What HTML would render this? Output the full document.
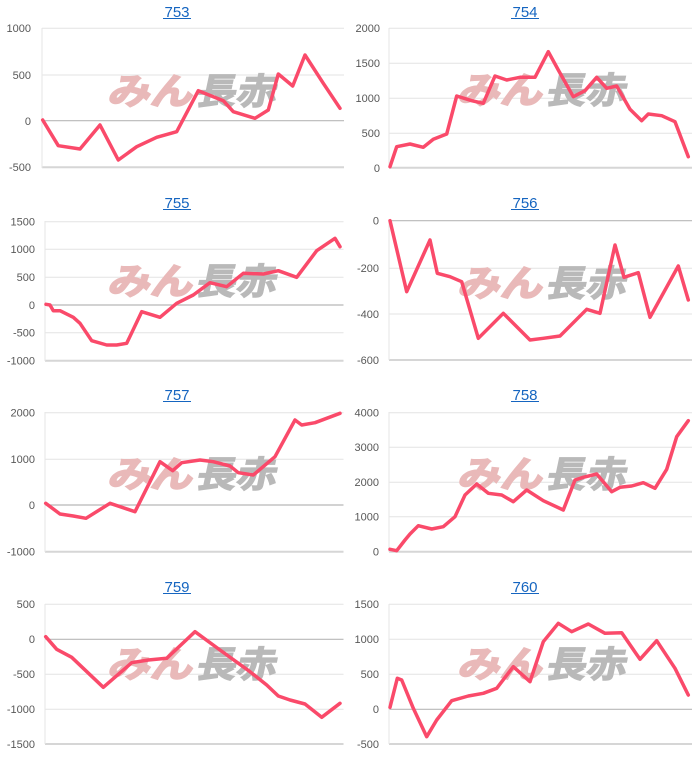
<!DOCTYPE html>
<html><head><meta charset="utf-8">
<style>
html,body{margin:0;padding:0;background:#fff;}
svg{display:block;}
.t{font-family:"Liberation Sans",Arial,sans-serif;font-size:15px;fill:#1565c0;text-anchor:middle;}
.l{font-family:"Liberation Sans",Arial,sans-serif;font-size:11px;fill:#585858;text-anchor:end;}
.g{stroke:#e3e3e3;stroke-width:1;}
.b{stroke:#b8b8b8;stroke-width:1.2;}
.bt{stroke:#d6d6d6;stroke-width:2;}
.ax{stroke:#e6e6e6;stroke-width:1;}
.ln{fill:none;stroke:#fa4a6a;stroke-width:3.5;stroke-linejoin:round;stroke-linecap:round;}
.wp{font-family:"Liberation Sans","Noto Sans CJK JP",sans-serif;font-weight:bold;font-size:36px;fill:#e9b9b9;stroke:#e9b9b9;stroke-width:1.8;}
.wg{font-family:"Liberation Sans","Noto Sans CJK JP",sans-serif;font-weight:bold;font-size:36px;fill:#b9b9b9;stroke:#b9b9b9;stroke-width:1.2;}
</style></head>
<body>
<svg width="700" height="768" viewBox="0 0 700 768" xmlns="http://www.w3.org/2000/svg">

<!-- ========== Chart 753 ========== -->
<text class="t" x="177" y="17">753</text><line x1="163" y1="18.5" x2="191" y2="18.5" stroke="#1565c0" stroke-width="1"/>
<line class="g" x1="42" y1="28.3" x2="344" y2="28.3"/>
<line class="g" x1="42" y1="75" x2="344" y2="75"/>
<line class="b" x1="42" y1="120.7" x2="344" y2="120.7"/>
<line class="bt" x1="42" y1="167.3" x2="344" y2="167.3"/>
<line class="ax" x1="42" y1="28" x2="42" y2="168"/>
<text class="l" x="31" y="32">1000</text>
<text class="l" x="31" y="79">500</text>
<text class="l" x="31" y="125">0</text>
<text class="l" x="31" y="171">-500</text>
<g transform="translate(194,90)">
<text class="wp" x="-84" y="14" textLength="85" lengthAdjust="spacingAndGlyphs" transform="skewX(-12)">みん</text>
<text class="wg" x="4" y="14" textLength="80" lengthAdjust="spacingAndGlyphs" transform="skewX(-12)">長赤</text>
</g>
<polyline class="ln" points="42.7,120 58.3,145.7 80,149 100,125 118.3,160 136.7,146.7 156.7,137.3 176.7,131.7 198.3,90.7 223.3,100.7 233.3,111.7 255,118.3 268.3,110 278.3,74 292.7,86 305,55 323.3,83.3 340,108.3"/>

<!-- ========== Chart 754 ========== -->
<text class="t" x="525" y="17">754</text><line x1="511" y1="18.5" x2="539" y2="18.5" stroke="#1565c0" stroke-width="1"/>
<line class="g" x1="389" y1="28.3" x2="692" y2="28.3"/>
<line class="g" x1="389" y1="63.3" x2="692" y2="63.3"/>
<line class="g" x1="389" y1="98.3" x2="692" y2="98.3"/>
<line class="g" x1="389" y1="133.3" x2="692" y2="133.3"/>
<line class="bt" x1="389" y1="167.7" x2="692" y2="167.7"/>
<line class="ax" x1="389" y1="28" x2="389" y2="168"/>
<text class="l" x="380" y="32">2000</text>
<text class="l" x="380" y="67">1500</text>
<text class="l" x="380" y="102">1000</text>
<text class="l" x="380" y="137">500</text>
<text class="l" x="380" y="172">0</text>
<g transform="translate(544,89)">
<text class="wp" x="-84" y="14" textLength="85" lengthAdjust="spacingAndGlyphs" transform="skewX(-12)">みん</text>
<text class="wg" x="4" y="14" textLength="80" lengthAdjust="spacingAndGlyphs" transform="skewX(-12)">長赤</text>
</g>
<polyline class="ln" points="390,166.7 396.7,146.7 410,144 423.3,147.3 433.3,139.3 446.7,134 456.7,96 471.7,100.7 483.3,103.3 495,76 506.7,80 520,77.3 535,77.3 548.3,51.7 558.3,70 573.3,96.7 585,90.7 596.7,77.3 606.7,88.3 616.7,86 630,109.3 641.7,120.7 648.3,114 661.7,115.7 675,121.7 688.3,156.7"/>

<!-- ========== Chart 755 ========== -->
<text class="t" x="177" y="208">755</text><line x1="163" y1="209.5" x2="191" y2="209.5" stroke="#1565c0" stroke-width="1"/>
<line class="g" x1="45" y1="221.7" x2="343.5" y2="221.7"/>
<line class="g" x1="45" y1="249.3" x2="343.5" y2="249.3"/>
<line class="g" x1="45" y1="277.3" x2="343.5" y2="277.3"/>
<line class="b" x1="45" y1="305" x2="343.5" y2="305"/>
<line class="g" x1="45" y1="332.7" x2="343.5" y2="332.7"/>
<line class="bt" x1="45" y1="360.7" x2="343.5" y2="360.7"/>
<line class="ax" x1="45" y1="221" x2="45" y2="361"/>
<text class="l" x="35" y="225.5">1500</text>
<text class="l" x="35" y="253">1000</text>
<text class="l" x="35" y="281">500</text>
<text class="l" x="35" y="309">0</text>
<text class="l" x="35" y="336.5">-500</text>
<text class="l" x="35" y="364.5">-1000</text>
<g transform="translate(194,280)">
<text class="wp" x="-84" y="14" textLength="85" lengthAdjust="spacingAndGlyphs" transform="skewX(-12)">みん</text>
<text class="wg" x="4" y="14" textLength="80" lengthAdjust="spacingAndGlyphs" transform="skewX(-12)">長赤</text>
</g>
<polyline class="ln" points="46,304.3 50,305 53.3,310.7 60,310.7 73.3,317.3 80,323.3 91.7,340.7 106.7,345 116.7,345 126.7,343.3 141.7,311.7 160,317.3 176.7,303.3 193.3,295 210,282.7 226.7,286.7 243.3,273.3 263.3,274 278.3,270.7 296.7,277.3 316.7,250.7 335,238.3 340,246.7"/>

<!-- ========== Chart 756 ========== -->
<text class="t" x="525" y="208">756</text><line x1="511" y1="209.5" x2="539" y2="209.5" stroke="#1565c0" stroke-width="1"/>
<line class="b" x1="389" y1="220.7" x2="692" y2="220.7"/>
<line class="g" x1="389" y1="268.3" x2="692" y2="268.3"/>
<line class="g" x1="389" y1="314" x2="692" y2="314"/>
<line class="bt" x1="389" y1="360" x2="692" y2="360"/>
<line class="ax" x1="389" y1="220" x2="389" y2="360"/>
<text class="l" x="379" y="224.5">0</text>
<text class="l" x="379" y="272">-200</text>
<text class="l" x="379" y="318">-400</text>
<text class="l" x="379" y="364">-600</text>
<g transform="translate(544,282)">
<text class="wp" x="-84" y="14" textLength="85" lengthAdjust="spacingAndGlyphs" transform="skewX(-12)">みん</text>
<text class="wg" x="4" y="14" textLength="80" lengthAdjust="spacingAndGlyphs" transform="skewX(-12)">長赤</text>
</g>
<polyline class="ln" points="390,220.7 406.7,291.7 430,240 437.3,273.3 450,276.7 461.7,281.7 478.3,338.3 503.3,313.3 530,340 543.3,338.3 560,336 586.7,309.3 600,313.3 615,245 624,277.3 638.3,272.7 650,317.3 678.3,266 688.3,300"/>

<!-- ========== Chart 757 ========== -->
<text class="t" x="177" y="400">757</text><line x1="163" y1="401.5" x2="191" y2="401.5" stroke="#1565c0" stroke-width="1"/>
<line class="g" x1="45" y1="412.7" x2="343.5" y2="412.7"/>
<line class="g" x1="45" y1="459.3" x2="343.5" y2="459.3"/>
<line class="b" x1="45" y1="505" x2="343.5" y2="505"/>
<line class="bt" x1="45" y1="551.7" x2="343.5" y2="551.7"/>
<line class="ax" x1="45" y1="412" x2="45" y2="552"/>
<text class="l" x="35" y="416.5">2000</text>
<text class="l" x="35" y="463">1000</text>
<text class="l" x="35" y="509">0</text>
<text class="l" x="35" y="555.5">-1000</text>
<g transform="translate(194,473)">
<text class="wp" x="-84" y="14" textLength="85" lengthAdjust="spacingAndGlyphs" transform="skewX(-12)">みん</text>
<text class="wg" x="4" y="14" textLength="80" lengthAdjust="spacingAndGlyphs" transform="skewX(-12)">長赤</text>
</g>
<polyline class="ln" points="45.7,503.3 60,514 73.3,516 86,518.3 110,503.3 135,511.7 160,461.7 172.7,470.7 181.7,462.7 200,460 213.3,461.7 230,466 238.3,472.7 253.3,475 275,456.7 295,420 301.7,425 315,422.7 340,413.3"/>

<!-- ========== Chart 758 ========== -->
<text class="t" x="525" y="400">758</text><line x1="511" y1="401.5" x2="539" y2="401.5" stroke="#1565c0" stroke-width="1"/>
<line class="g" x1="389" y1="412.7" x2="692" y2="412.7"/>
<line class="g" x1="389" y1="447.3" x2="692" y2="447.3"/>
<line class="g" x1="389" y1="482.3" x2="692" y2="482.3"/>
<line class="g" x1="389" y1="516.7" x2="692" y2="516.7"/>
<line class="bt" x1="389" y1="551.7" x2="692" y2="551.7"/>
<line class="ax" x1="389" y1="412" x2="389" y2="552"/>
<text class="l" x="379" y="416.5">4000</text>
<text class="l" x="379" y="451">3000</text>
<text class="l" x="379" y="486">2000</text>
<text class="l" x="379" y="520.5">1000</text>
<text class="l" x="379" y="555.5">0</text>
<g transform="translate(544,473)">
<text class="wp" x="-84" y="14" textLength="85" lengthAdjust="spacingAndGlyphs" transform="skewX(-12)">みん</text>
<text class="wg" x="4" y="14" textLength="80" lengthAdjust="spacingAndGlyphs" transform="skewX(-12)">長赤</text>
</g>
<polyline class="ln" points="390,549.3 396.7,550.7 405,540 410,534 418.3,525.7 431.7,529 443.3,526.7 455,516.7 465,495 476.7,484 488.3,493.3 501.7,495 513.3,501.7 526.7,490 543.3,500.7 563.3,510 575,480 583.3,477.3 596.7,474 611.7,491.7 620,487.3 631.7,486 643.3,482.7 655,488.3 666.7,469.3 676.7,436.7 688.3,420.7"/>

<!-- ========== Chart 759 ========== -->
<text class="t" x="177" y="592">759</text><line x1="163" y1="593.5" x2="191" y2="593.5" stroke="#1565c0" stroke-width="1"/>
<line class="g" x1="45" y1="604.3" x2="343.5" y2="604.3"/>
<line class="b" x1="45" y1="639.3" x2="343.5" y2="639.3"/>
<line class="g" x1="45" y1="674.3" x2="343.5" y2="674.3"/>
<line class="g" x1="45" y1="709.3" x2="343.5" y2="709.3"/>
<line class="bt" x1="45" y1="744" x2="343.5" y2="744"/>
<line class="ax" x1="45" y1="604" x2="45" y2="744"/>
<text class="l" x="35" y="608">500</text>
<text class="l" x="35" y="643">0</text>
<text class="l" x="35" y="678">-500</text>
<text class="l" x="35" y="713">-1000</text>
<text class="l" x="35" y="748">-1500</text>
<g transform="translate(194,663)">
<text class="wp" x="-84" y="14" textLength="85" lengthAdjust="spacingAndGlyphs" transform="skewX(-12)">みん</text>
<text class="wg" x="4" y="14" textLength="80" lengthAdjust="spacingAndGlyphs" transform="skewX(-12)">長赤</text>
</g>
<polyline class="ln" points="45.7,636.7 56.7,649.3 71.7,657.3 103.3,687.3 131.7,662.7 148.3,660 166.7,658.3 195,631.7 220,650 250,671.7 266.7,685 278.3,696 290,700 305,704 321.7,717.3 340,703.3"/>

<!-- ========== Chart 760 ========== -->
<text class="t" x="525" y="592">760</text><line x1="511" y1="593.5" x2="539" y2="593.5" stroke="#1565c0" stroke-width="1"/>
<line class="g" x1="389" y1="604.3" x2="692" y2="604.3"/>
<line class="g" x1="389" y1="639.3" x2="692" y2="639.3"/>
<line class="g" x1="389" y1="674.3" x2="692" y2="674.3"/>
<line class="b" x1="389" y1="709.3" x2="692" y2="709.3"/>
<line class="bt" x1="389" y1="744" x2="692" y2="744"/>
<line class="ax" x1="389" y1="604" x2="389" y2="744"/>
<text class="l" x="379" y="608">1500</text>
<text class="l" x="379" y="643">1000</text>
<text class="l" x="379" y="678">500</text>
<text class="l" x="379" y="713">0</text>
<text class="l" x="379" y="748">-500</text>
<g transform="translate(544,663)">
<text class="wp" x="-84" y="14" textLength="85" lengthAdjust="spacingAndGlyphs" transform="skewX(-12)">みん</text>
<text class="wg" x="4" y="14" textLength="80" lengthAdjust="spacingAndGlyphs" transform="skewX(-12)">長赤</text>
</g>
<polyline class="ln" points="390,707.3 397.3,678.3 401.7,680 413.3,708.3 426.7,736.7 436.7,720 451.7,700.7 468.3,696 483.3,693.3 496.7,688.3 513.3,666.7 530,681.7 543.3,641.7 558.3,623.3 571.7,631.7 588.3,624 605,633.3 621.7,632.7 640,659.3 656.7,640.7 675,668.3 688.3,695"/>

</svg>
</body></html>
